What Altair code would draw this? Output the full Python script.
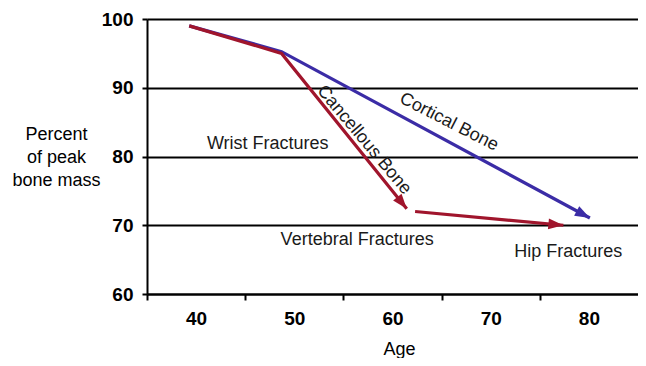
import math
import altair as alt
import pandas as pd

# ---- data ----
cortical_age = [39.3, 48.7, 80.1]
cortical_pct = [99.0, 95.25, 71.05]

cancellous_age = [39.3, 48.7, 61.45]
cancellous_pct = [99.0, 95.0, 72.4]

hip_age = [62.3, 77.4]
hip_pct = [72.0, 70.0]

label_text = ["Wrist Fractures", "Cortical Bone", "Cancellous Bone", "Vertebral Fractures", "Hip Fractures"]
label_age = [47.3, 65.75, 57.1, 56.4, 77.9]
label_pct = [81.75, 85.0, 82.4, 67.9, 66.1]
label_angle = [0, 27, 50, 0, 0]

x_ticks = [40, 50, 60, 70, 80]
y_ticks = [60, 70, 80, 90, 100]

BLUE = "#3b2ca6"
RED = "#a0152c"
FONT = "Liberation Sans"

W, H = 491, 275
X_DOM = [35, 85]
Y_DOM = [60, 100]
px_x = W / (X_DOM[1] - X_DOM[0])
px_y = H / (Y_DOM[1] - Y_DOM[0])


def seg(ages, pcts, name):
    return pd.DataFrame({"age": ages, "pct": pcts, "series": name, "order": range(len(ages))})


def head(ages, pcts, name):
    dx = (ages[-1] - ages[-2]) * px_x
    dy = -(pcts[-1] - pcts[-2]) * px_y
    ang = math.degrees(math.atan2(dy, dx)) % 360
    return {"age": ages[-1], "pct": pcts[-1], "series": name, "angle": ang}


lines = pd.concat([
    seg(cortical_age, cortical_pct, "cortical"),
    seg(cancellous_age, cancellous_pct, "cancellous"),
    seg(hip_age, hip_pct, "hip"),
])
heads = pd.DataFrame([
    head(cortical_age, cortical_pct, "cortical"),
    head(cancellous_age, cancellous_pct, "cancellous"),
    head(hip_age, hip_pct, "hip"),
])
labels = pd.DataFrame({"text": label_text, "age": label_age, "pct": label_pct, "angle": label_angle})

color_scale = alt.Scale(domain=["cortical", "cancellous", "hip"], range=[BLUE, RED, RED])

x_enc = alt.X(
    "age:Q",
    scale=alt.Scale(domain=X_DOM, nice=False, zero=False),
    axis=alt.Axis(
        values=[35, 40, 45, 50, 55, 60, 65, 70, 75, 80],
        labelExpr="datum.value % 10 == 0 ? datum.label : ''",
        tickOpacity={"condition": {"test": "datum.value % 10 == 0", "value": 0}, "value": 1},
        title="Age",
        titleFont=FONT, titleFontSize=18, titleFontWeight="normal", titleColor="black",
        titleX=252, titleY=55, titleBaseline="middle", titleAnchor="start", titleAlign="center",
        labelFont=FONT, labelFontSize=19, labelFontWeight="bold", labelColor="black",
        labelPadding=9, tickSize=6, tickWidth=2, tickColor="black",
        domainColor="black", domainWidth=2, grid=False, labelFlush=False,
    ),
)
y_enc = alt.Y(
    "pct:Q",
    scale=alt.Scale(domain=Y_DOM, nice=False, zero=False),
    axis=alt.Axis(
        values=y_ticks,
        title=["Percent", "of peak", "bone mass"],
        titleAngle=0, titleAlign="center", titleBaseline="top",
        titleX=-91, titleY=106, titleLineHeight=23,
        titleFont=FONT, titleFontSize=18, titleFontWeight="normal", titleColor="black",
        labelFont=FONT, labelFontSize=19, labelFontWeight="bold", labelColor="black",
        labelPadding=9, tickSize=5, tickWidth=2, tickColor="black",
        domainColor="black", domainWidth=2,
        grid=True, gridColor="black", gridWidth=2, gridOpacity=1,
    ),
)

base = alt.Chart(lines)

line_layer = base.mark_line(strokeWidth=3.2, strokeCap="butt").encode(
    x=x_enc, y=y_enc,
    color=alt.Color("series:N", scale=color_scale, legend=None),
    detail="series:N",
    order="order:Q",
)

head_layer = alt.Chart(heads).mark_point(
    shape="M0,0L-1,-0.36L-1,0.36Z", size=900, filled=True, opacity=1, strokeWidth=0
).encode(
    x="age:Q", y="pct:Q",
    color=alt.Color("series:N", scale=color_scale, legend=None),
    angle=alt.Angle("angle:Q", scale=None),
)

text_layer = alt.Chart(labels).mark_text(
    font=FONT, fontSize=18, color="#1a1a1a", align="center", baseline="middle"
).encode(
    x="age:Q", y="pct:Q", text="text:N",
    angle=alt.Angle("angle:Q", scale=None),
)

chart = alt.layer(line_layer, head_layer, text_layer).properties(
    width=W, height=H,
    autosize=alt.AutoSizeParams(type="none"),
    padding={"left": 139, "top": 11, "right": 0, "bottom": 64},
).configure_view(stroke=None).configure(background="white")

chart.save("out.html", embed_options={"renderer": "svg", "actions": False})
